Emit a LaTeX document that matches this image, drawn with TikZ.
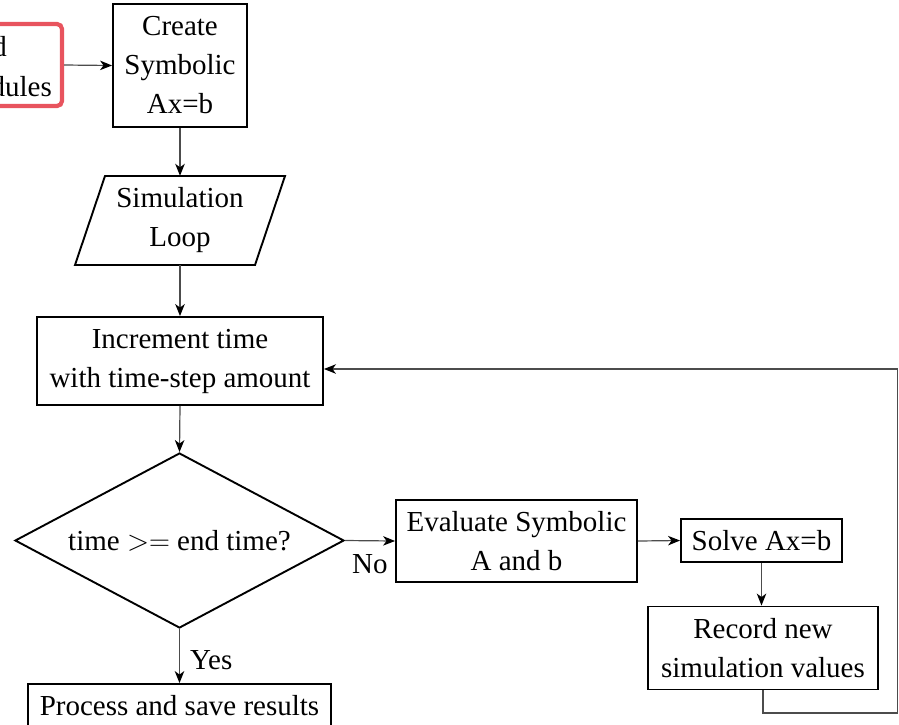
\RequirePackage{fix-cm}
\documentclass[tikz,border=0pt]{standalone}
\usepackage{fontspec}
\setmainfont{Liberation Serif}
\usetikzlibrary{shapes.geometric,arrows.meta,calc}

\definecolor{hlred}{RGB}{232,84,94}

\tikzset{
  txt/.style={font=\fontsize{29}{39}\selectfont, align=center, inner sep=0pt},
  stepbox/.style={txt, draw=black, line width=1.9pt, rectangle},
  decide/.style={txt, draw=black, line width=1.9pt, shape=diamond, aspect=1.88},
  conn/.style={draw=black!70, line width=1.2pt,
    -{Stealth[length=12pt,width=9.5pt,inset=3.5pt,color=black]}},
  plainline/.style={draw=black!70, line width=1.2pt},
  lbl/.style={font=\fontsize{29}{39}\selectfont, inner sep=0pt}
}

\begin{document}
\begin{tikzpicture}[x=1pt,y=-1pt]
  \useasboundingbox (0,0) rectangle (899,724);

  % highlighted module box (runs off the left edge)
  \node[draw=hlred, line width=4.2pt, rounded corners=5pt, rectangle,
        minimum width=204pt, minimum height=82pt, inner sep=0pt]
        (mods) at (-40,65) {};
  \node[lbl, anchor=base east] (modsa) at (7,56) {d};
  \node[lbl, anchor=base east] (modsb) at (52,96) {dules};

  % main flow
  \node[stepbox, minimum width=134pt, minimum height=123pt]
        (create) at (180,65.5) {Create\\Symbolic\\Ax=b};

  \node[txt, rectangle, minimum width=150pt, minimum height=89pt]
        (loop) at (180,220.5) {Simulation\\Loop};
  \draw[line width=1.9pt, line join=miter]
        (105,176) -- (285,176) -- (255,265) -- (75,265) -- cycle;

  \node[stepbox, minimum width=286pt, minimum height=88pt]
        (incr) at (180,361) {Increment time\\with time-step amount};

  \node[decide, minimum width=329pt, minimum height=175pt]
        (cond) at (179.5,540.5) {time ${>}{=}$ end time?};

  \node[stepbox, minimum width=241pt, minimum height=82pt]
        (eval) at (516.5,541) {Evaluate Symbolic\\A and b};

  \node[stepbox, minimum width=161pt, minimum height=43pt]
        (solve) at (761.5,540.5) {Solve Ax=b};

  \node[stepbox, minimum width=230pt, minimum height=83pt]
        (record) at (763,648) {Record new\\simulation values};

  \node[stepbox, minimum width=303pt, minimum height=43pt]
        (proc) at (179.5,705.5) {Process and save results};

  % connectors
  \draw[conn] (mods.east) -- (create.west);
  \draw[conn] (create.south) -- (loop.north);
  \draw[conn] (loop.south) -- (incr.north);
  \draw[conn] (incr.south) -- (cond.north);
  \draw[conn] (cond.east) -- (eval.west);
  \draw[conn] (cond.south) -- (proc.north);
  \draw[conn] (eval.east) -- (solve.west);
  \draw[conn] (solve.south) -- (solve.south |- record.north);

  % loop back to the time increment
  \coordinate (backlow) at (897.5,713);
  \coordinate (backhigh) at (897.5,369);
  \draw[plainline] (record.south) |- (backlow) -- (backhigh);
  \draw[conn] (backhigh) -- ([yshift=-8pt]incr.east);

  % branch labels
  \node[lbl, anchor=base west] (nolbl) at (352,573) {No};
  \node[lbl, anchor=base west] (yeslbl) at (190,669) {Yes};
\end{tikzpicture}
\end{document}
